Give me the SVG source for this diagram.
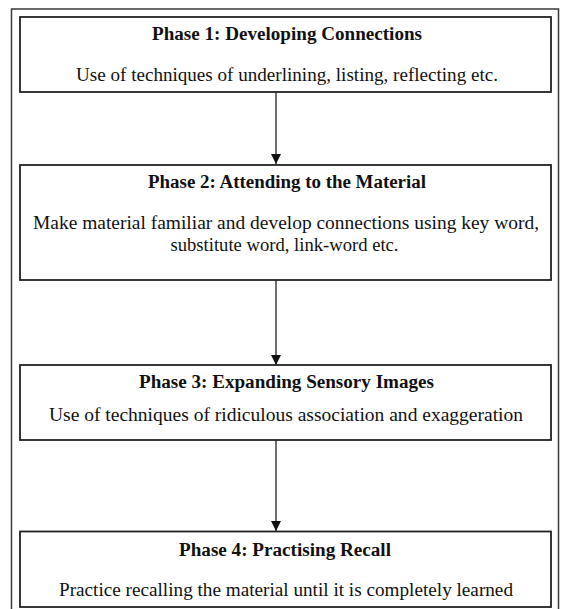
<svg xmlns="http://www.w3.org/2000/svg" width="567" height="609" viewBox="0 0 567 609">
<style>
.frame{fill:none;stroke:#3a3a3a;stroke-width:1.5}
.box{fill:#fff;stroke:#222;stroke-width:1.8}
text{font-family:"Liberation Serif","DejaVu Serif","Times New Roman",serif;font-size:18px;fill:#111;text-anchor:middle}
.t{font-weight:bold}
.c{stroke:#222;stroke-width:1.3;fill:none;marker-end:url(#ah)}
</style>
<defs>
<marker id="ah" markerWidth="10" markerHeight="10" refX="10" refY="5" orient="auto" markerUnits="userSpaceOnUse">
<path d="M0,0 L10,5 L0,10 Z" fill="#111"/>
</marker>
</defs>
<rect class="frame" x="11.5" y="9" width="547" height="610"/>
<g id="connectors">
<line class="c" x1="276" y1="92" x2="276" y2="164"/>
<line class="c" x1="276" y1="280" x2="276" y2="365"/>
<line class="c" x1="276" y1="440" x2="276" y2="531"/>
</g>
<g id="phase1">
<rect class="box" x="20" y="17" width="531" height="75"/>
<text class="t" x="287" y="40" textLength="270" lengthAdjust="spacingAndGlyphs">Phase 1: Developing Connections</text>
<text x="287" y="81" textLength="422" lengthAdjust="spacingAndGlyphs">Use of  techniques of underlining, listing, reflecting etc.</text>
</g>
<g id="phase2">
<rect class="box" x="20" y="165" width="531" height="115"/>
<text class="t" x="287" y="188" textLength="278" lengthAdjust="spacingAndGlyphs">Phase 2: Attending to the Material</text>
<text x="286" y="229" textLength="506" lengthAdjust="spacingAndGlyphs">Make material familiar and develop connections using key word,</text>
<text x="284.5" y="251" textLength="228" lengthAdjust="spacingAndGlyphs">substitute word, link-word etc.</text>
</g>
<g id="phase3">
<rect class="box" x="20" y="365" width="531" height="75"/>
<text class="t" x="286.5" y="388" textLength="295" lengthAdjust="spacingAndGlyphs">Phase 3: Expanding Sensory Images</text>
<text x="286" y="421" textLength="474" lengthAdjust="spacingAndGlyphs">Use of techniques of ridiculous association and exaggeration</text>
</g>
<g id="phase4">
<rect class="box" x="20" y="531.5" width="531" height="75.5"/>
<text class="t" x="285" y="556" textLength="212" lengthAdjust="spacingAndGlyphs">Phase 4: Practising Recall</text>
<text x="286" y="596" textLength="454" lengthAdjust="spacingAndGlyphs">Practice recalling the material until it is completely learned</text>
</g>
</svg>
